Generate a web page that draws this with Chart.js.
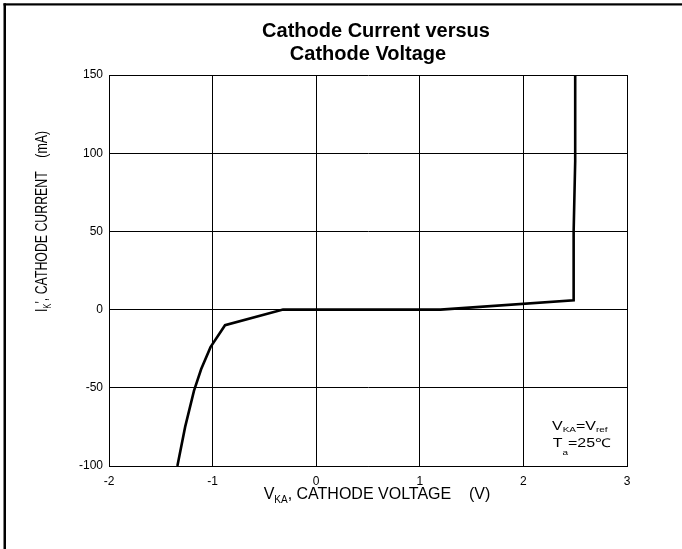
<!DOCTYPE html>
<html>
<head>
<meta charset="utf-8">
<script src="https://cdn.jsdelivr.net/npm/chart.js@4.4.1/dist/chart.umd.min.js"></script>
<style>
  html, body { margin: 0; padding: 0; background: #fff; }
  #wrap { width: 682px; height: 549px; position: relative; }
</style>
</head>
<body>
<div id="wrap"><canvas id="c" width="682" height="549"></canvas></div>
<script>
// ---- data ----
const voltage = [-1.34, -1.265, -1.18, -1.11, -1.02, -0.88, -0.32, 1.2, 2.485, 2.485, 2.5, 2.5];
const current = [-100, -75, -52, -38, -24, -10, 0, 0, 6, 50, 95, 150];
const xTicks = [-2, -1, 0, 1, 2, 3];
const yTicks = [-100, -50, 0, 50, 100, 150];
const titleLines = ['Cathode Current versus', 'Cathode Voltage'];
const xTitle = [{ t: 'V' }, { t: 'KA', sub: true }, { t: ', CATHODE VOLTAGE    (V)' }];
const yTitle = [{ t: 'I' }, { t: 'K', sub: true }, { t: "', CATHODE CURRENT    (mA)" }];
const note1 = [{ t: 'V' }, { t: 'KA', sub: true }, { t: '=V' }, { t: 'ref', sub: true }];
const note2 = [{ t: 'T' }, { t: 'a', sub: true }, { t: '=25℃' }];

const FONT = '"Liberation Sans", Arial, sans-serif';

function segWidth(ctx, segs, size, subSize) {
  let w = 0;
  for (const s of segs) {
    ctx.font = (s.sub ? subSize : size) + 'px ' + FONT;
    w += ctx.measureText(s.t).width;
  }
  return w;
}
function drawSegs(ctx, x, y, segs, size, subSize, subDy) {
  let cx = x;
  ctx.textAlign = 'left';
  ctx.textBaseline = 'alphabetic';
  for (const s of segs) {
    ctx.font = (s.sub ? subSize : size) + 'px ' + FONT;
    ctx.fillText(s.t, cx, s.sub ? y + subDy : y);
    cx += ctx.measureText(s.t).width;
  }
}

const decor = {
  id: 'decor',
  afterDraw(chart) {
    const ctx = chart.ctx;
    const a = chart.chartArea;
    ctx.save();
    ctx.fillStyle = '#000';
    // outer frame (left and top only)
    ctx.fillRect(3.5, 3.3, 2.5, 549);
    ctx.fillRect(3.5, 3.3, 682, 2.2);
    // title
    ctx.font = 'bold 20px ' + FONT;
    ctx.textAlign = 'center';
    ctx.textBaseline = 'alphabetic';
    const mid = (a.left + a.right) / 2;
    ctx.fillText(titleLines[0], mid + 8, a.top - 38);
    ctx.fillText(titleLines[1], mid, a.top - 15);
    // x title
    const xw = segWidth(ctx, xTitle, 16, 10);
    drawSegs(ctx, mid + 9 - xw / 2, a.bottom + 33, xTitle, 16, 10, 4);
    // y title (rotated, condensed)
    ctx.save();
    ctx.translate(a.left - 62, (a.top + a.bottom) / 2 - 49);
    ctx.rotate(-Math.PI / 2);
    ctx.scale(0.77, 1);
    const yw = segWidth(ctx, yTitle, 16, 10);
    drawSegs(ctx, -yw / 2, 0, yTitle, 16, 10, 4);
    ctx.restore();
    // note (stretched)
    ctx.save();
    ctx.translate(a.right - 75, a.bottom - 36);
    ctx.scale(1.33, 1);
    drawSegs(ctx, 0, 0, note1, 12, 7.5, 2);
    drawSegs(ctx, 0.5, 17, note2, 12, 7.5, 8);
    ctx.restore();
    ctx.restore();
  }
};

new Chart(document.getElementById('c'), {
  type: 'scatter',
  data: {
    datasets: [{
      data: voltage.map((v, i) => ({ x: v, y: current[i] })),
      showLine: true,
      borderColor: '#000',
      borderWidth: 2.6,
      pointRadius: 0,
      tension: 0,
      fill: false
    }]
  },
  options: {
    responsive: false,
    animation: false,
    devicePixelRatio: 1,
    layout: { padding: { left: 0, right: 55, top: 75, bottom: 0 } },
    plugins: { legend: { display: false }, tooltip: { enabled: false }, title: { display: false } },
    scales: {
      x: {
        type: 'linear',
        min: xTicks[0], max: xTicks[xTicks.length - 1],
        afterFit(s) { s.height = 83; },
        afterBuildTicks(s) { s.ticks = xTicks.map(v => ({ value: v })); },
        grid: { color: '#000', lineWidth: 1, drawTicks: false },
        border: { color: '#000', width: 1 },
        ticks: { color: '#000', font: { family: FONT, size: 12 }, padding: 8, maxRotation: 0 }
      },
      y: {
        type: 'linear',
        min: yTicks[0], max: yTicks[yTicks.length - 1],
        afterFit(s) { s.width = 109; },
        afterBuildTicks(s) { s.ticks = yTicks.map(v => ({ value: v })); },
        grid: { color: '#000', lineWidth: 1, drawTicks: false },
        border: { color: '#000', width: 1 },
        ticks: { color: '#000', font: { family: FONT, size: 12 }, padding: 6 }
      }
    }
  },
  plugins: [decor]
});
</script>
</body>
</html>
